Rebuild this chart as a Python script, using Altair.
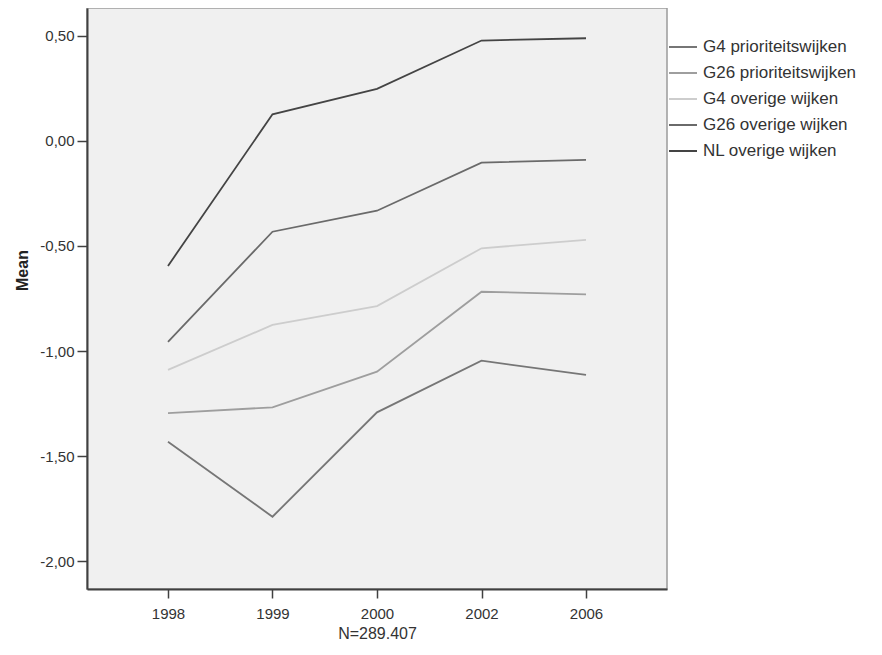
import altair as alt
import pandas as pd

years = ["1998", "1999", "2000", "2002", "2006"]
series_names = [
    "G4 prioriteitswijken",
    "G26 prioriteitswijken",
    "G4 overige wijken",
    "G26 overige wijken",
    "NL overige wijken",
]
g4_prior = [-1.432, -1.789, -1.292, -1.046, -1.114]
g26_prior = [-1.296, -1.268, -1.098, -0.718, -0.730]
g4_overig = [-1.090, -0.876, -0.786, -0.511, -0.471]
g26_overig = [-0.956, -0.432, -0.332, -0.103, -0.090]
nl_overig = [-0.595, 0.127, 0.248, 0.478, 0.489]
colors = ["#767676", "#9e9e9e", "#cdcdcd", "#6a6a6a", "#444444"]
y_ticks = [-2.0, -1.5, -1.0, -0.5, 0.0, 0.5]

all_series = [g4_prior, g26_prior, g4_overig, g26_overig, nl_overig]
rows = []
for name, vals in zip(series_names, all_series):
    for yr, v in zip(years, vals):
        rows.append({"jaar": yr, "serie": name, "mean": v})
df = pd.DataFrame(rows)

FONT = "Liberation Sans"

chart = alt.Chart(df).mark_line(strokeWidth=1.8).encode(
    x=alt.X(
        "jaar:N",
        sort=years,
        scale=alt.Scale(type="point", padding=0.775),
        axis=alt.Axis(
            title="N=289.407",
            labelAngle=0,
            tickSize=9,
            tickColor="#404040",
            tickWidth=1.5,
            domainColor="#404040",
            domainWidth=2,
            labelFont=FONT,
            labelFontSize=15,
            labelColor="#333333",
            labelPadding=8,
            titleFont=FONT,
            titleFontSize=16,
            titleFontWeight="normal",
            titleColor="#333333",
            titleX=290,
            titleY=44,
            titleBaseline="middle",
            grid=False,
        ),
    ),
    y=alt.Y(
        "mean:Q",
        scale=alt.Scale(domain=[-2.133, 0.633], nice=False, zero=False),
        axis=alt.Axis(
            title="Mean",
            values=y_ticks,
            labelExpr="replace(replace(format(datum.value, '.2f'), '.', ','), '\u2212', '-')",
            tickSize=10,
            tickColor="#404040",
            tickWidth=1.5,
            domainColor="#404040",
            domainWidth=2,
            labelFont=FONT,
            labelFontSize=15,
            labelColor="#333333",
            labelPadding=3,
            titleFont=FONT,
            titleFontSize=16,
            titleFontWeight="bold",
            titleColor="#222222",
            titleX=-65,
            titleY=262,
            titleAngle=-90,
            titleBaseline="middle",
            grid=False,
        ),
    ),
    color=alt.Color(
        "serie:N",
        sort=series_names,
        scale=alt.Scale(domain=series_names, range=colors),
        legend=alt.Legend(
            title=None,
            orient="none",
            legendX=581,
            legendY=24,
            symbolType="stroke",
            symbolSize=784,
            symbolStrokeWidth=2,
            labelFont=FONT,
            labelFontSize=17,
            labelColor="#333333",
            labelOffset=5,
            labelLimit=300,
            rowPadding=3,
            padding=0,
        ),
    ),
).properties(
    width=580,
    height=581,
    background="white",
    padding={"left": 79, "top": 0, "right": 207, "bottom": 58},
    autosize=alt.AutoSizeParams(type="none"),
).configure_view(
    fill="#f0f0f0",
    stroke="#9a9a9a",
    strokeWidth=1.5,
)

chart.save("out.html", embed_options={"renderer": "svg", "actions": False})
